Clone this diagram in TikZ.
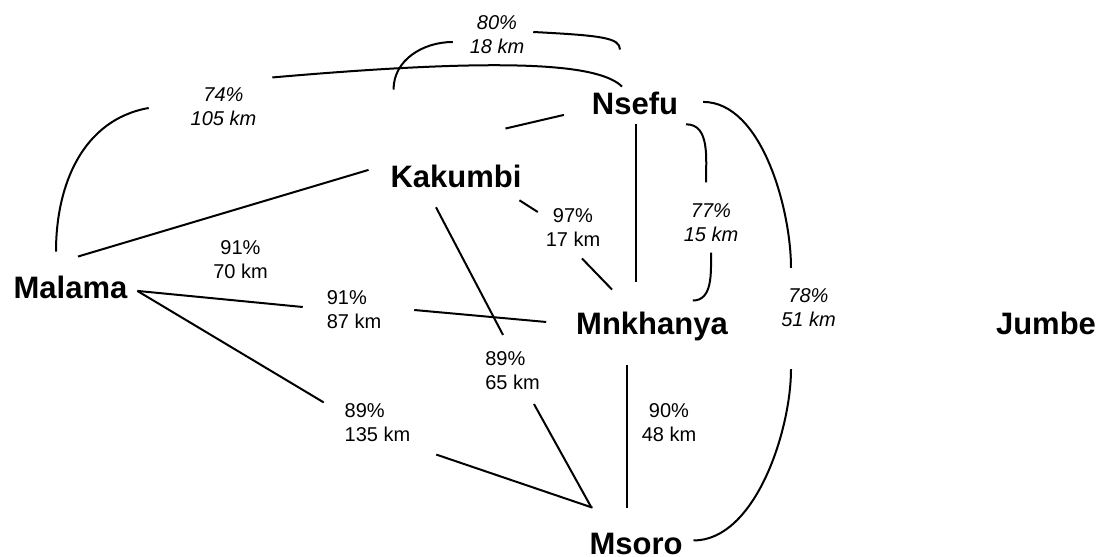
\documentclass[tikz,border=0pt]{standalone}
\usepackage{fontspec}
\setmainfont{Liberation Sans}

\begin{document}
\begin{tikzpicture}[x=1pt,y=1pt,line width=2pt,
  town/.style={inner sep=0pt,anchor=base,font=\bfseries\fontsize{31}{37}\selectfont},
  lbl/.style={inner sep=0pt,align=center,font=\fontsize{20}{24}\selectfont},
  ilbl/.style={lbl,font=\itshape\fontsize{20}{24}\selectfont}]
  \useasboundingbox (0,0) rectangle (1098,557);
  % towns
  \node[town] (nsefu) at (635,442) {Nsefu};
  \node[town] (kakumbi) at (456,369) {Kakumbi};
  \node[town] (malama) at (70.5,258) {Malama};
  \node[town] (mnkhanya) at (652,222) {Mnkhanya};
  \node[town] (msoro) at (636,2) {Msoro};
  \node[town] (jumbe) at (1046,222) {Jumbe};
  % link labels
  \node[lbl] (l7070) at (240.5,297.5) {91\%\\70 km};
  \node[lbl,align=left] (l8787) at (354,247) {91\%\\87 km};
  \node[lbl,align=left] (l135) at (377.5,134.5) {89\%\\135 km};
  \node[lbl,align=left] (l6565) at (512.5,186) {89\%\\65 km};
  \node[lbl] (l4848) at (669,134.5) {90\%\\48 km};
  \node[lbl] (l1717) at (573,329.5) {97\%\\17 km};
  \node[ilbl] (l105) at (223.5,450.5) {74\%\\105 km};
  \node[ilbl] (l1818) at (497,522) {80\%\\18 km};
  \node[ilbl] (l1515) at (711,334.5) {77\%\\15 km};
  \node[ilbl] (l5151) at (808.5,249) {78\%\\51 km};
  % straight links
  \draw ([shift={(7.5,19)}]malama.north) -- ([shift={(-21,7)}]kakumbi.west);
  \draw ([shift={(9,-3)}]malama.east) -- ([shift={(-23,3)}]l8787.west);
  \draw ([shift={(32,0)}]l8787.east) -- ([shift={(-29,5)}]mnkhanya.west);
  \draw ([shift={(9,-3)}]malama.east) -- ([shift={(-20,0)}]l135.north west);
  \draw ([shift={(25,-12)}]l135.south east) -- ([shift={(4,25)}]msoro.north west);
  \draw ([shift={(-20,-18)}]kakumbi.south) -- ([shift={(-9.5,16)}]l6565.north);
  \draw ([shift={(21.5,-13)}]l6565.south) -- ([shift={(3,25)}]msoro.north west);
  \draw ([shift={(-3,-11)}]kakumbi.south east) -- ([shift={(-7,15.5)}]l1717.west);
  \draw ([shift={(9,-11)}]l1717.south) -- ([shift={(-40,22)}]mnkhanya.north);
  \draw ([shift={(-17,36)}]kakumbi.north east) -- ([shift={(-27,-11)}]nsefu.west);
  \draw ([shift={(1,-8)}]nsefu.south) -- ([shift={(-16,30)}]mnkhanya.north);
  \draw ([shift={(-25,-22.5)}]mnkhanya.south) -- ([shift={(-9,25)}]msoro.north);
  % curved links
  \draw ([shift={(7,-8)}]nsefu.south east) to[out=0,in=90] ([shift={(-5,20)}]l1515.north);
  \draw ([shift={(0,-10)}]l1515.south) to[out=-90,in=0] ([shift={(-36,11)}]mnkhanya.north east);
  \draw ([shift={(24,2)}]nsefu.east) to[out=0,in=90,looseness=0.8] ([shift={(-17.5,20)}]l5151.north);
  \draw ([shift={(-17.5,-41)}]l5151.south) to[out=-90,in=0,looseness=0.8] ([shift={(10,4)}]msoro.east);
  \draw ([shift={(-14.5,24)}]malama.north) to[out=90,in=190] ([shift={(-41,-1.5)}]l105.west);
  \draw ([shift={(15,9)}]l105.north east) to[out=5,in=136,out distance=250pt,in distance=30pt] ([shift={(-13,5)}]nsefu.north);
  \draw ([shift={(4,75)}]kakumbi.north west) to[out=90,in=180] ([shift={(-16,-7)}]l1818.west);
  \draw ([shift={(8,3)}]l1818.east) to[out=-3,in=90,out distance=67pt,in distance=12pt] ([shift={(-15,42)}]nsefu.north);
\end{tikzpicture}
\end{document}
